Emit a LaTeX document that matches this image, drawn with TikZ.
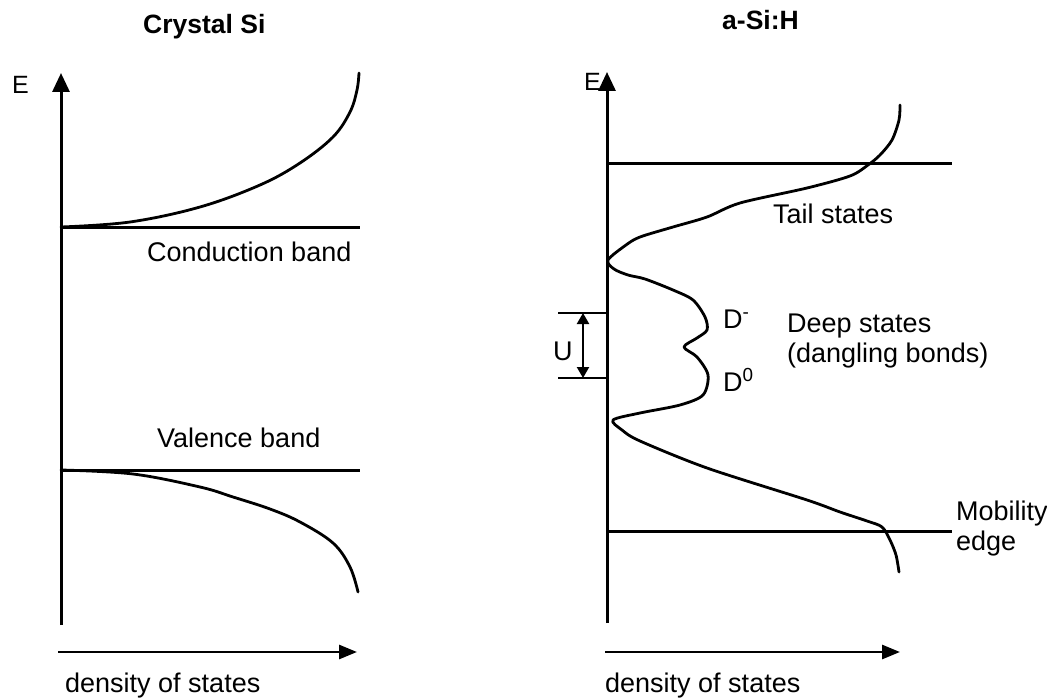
\documentclass[tikz,border=0pt]{standalone}
\usepackage{fontspec}
\setmainfont{Liberation Sans}
\usetikzlibrary{arrows.meta,positioning}

\begin{document}
\begin{tikzpicture}[x=1pt,y=-1pt,
  axis/.style={line width=3pt,-{Triangle[length=19pt,width=17pt]}},
  dosaxis/.style={line width=2.8pt,-{Triangle[length=18pt,width=14pt]}},
  level/.style={line width=3pt},
  dos/.style={line width=2.8pt,line join=round,line cap=round},
  ulevel/.style={line width=2.2pt},
  lbl/.style={inner sep=0pt,anchor=base west,font=\fontsize{27}{30}\selectfont},
  ttl/.style={inner sep=0pt,anchor=base west,font=\fontsize{26.5}{30}\selectfont\bfseries},
  elbl/.style={inner sep=0pt,anchor=base west,font=\fontsize{25}{28}\selectfont}]
\useasboundingbox (0,0) rectangle (1047,698);

% --- crystal Si ---
\node[ttl] (ctitle) at (143,34) {Crystal Si};
\node[elbl] (cE) at (12,94) {E};
\coordinate (cO) at (61,625);
\coordinate (cTop) at (61,73);
\coordinate (cCl) at (61,227);
\coordinate (cCr) at (360,227);
\coordinate (cVl) at (61,470);
\coordinate (cVr) at (360,470);
\coordinate (cDl) at (58,652);
\coordinate (cDr) at (357,652);
\draw[axis] (cO) -- (cTop);
\draw[level] (cCl) -- (cCr);
\draw[level] (cVl) -- (cVr);
\draw[dosaxis] (cDl) -- (cDr);
\draw[dos] plot[smooth,tension=0.6] coordinates {(61,227) (130,222) (200,207) (260,185)
  (300,163) (333,137) (350,112) (357,90) (359,73)};
\draw[dos] plot[smooth,tension=0.6] coordinates {(61,470) (133,474) (200,487) (233,497)
  (270,509) (300,522) (333,543) (350,567) (358,592)};
\node[lbl] (cband) at (147,261) {Conduction band};
\node[lbl] (vband) at (157,447) {Valence band};
\node[lbl] (cdos) at (65,692) {density of states};

% --- a-Si:H ---
\node[ttl] (atitle) at (722,30) {a-Si:H};
\node[elbl] (aE) at (584,91) {E};
\coordinate (aO) at (607,623);
\coordinate (aTop) at (607,72);
\coordinate (aMl) at (607,164);
\coordinate (aMr) at (952,164);
\coordinate (aNl) at (607,531);
\coordinate (aNr) at (952,531);
\coordinate (aDl) at (605,652);
\coordinate (aDr) at (900,652);
\draw[axis] (aO) -- (aTop);
\draw[level] (aMl) -- (aMr);
\draw[level] (aNl) -- (aNr);
\draw[dosaxis] (aDl) -- (aDr);
\draw[dos] plot[smooth,tension=0.5] coordinates {(900,105) (899,120) (892,140) (880,155)
  (868,165) (850,176) (807,188) (740,203) (707,217) (673,227) (640,237) (626,245)
  (608,260) (614,269) (628,275) (645,279) (673,290) (693,300) (705,317) (707,330)
  (697,338) (684,347) (697,357) (708,375) (703,395) (680,405) (640,413) (613,420)
  (622,430) (640,441) (707,468) (807,500) (840,512) (867,521) (882,527) (890,540)
  (896,555) (899,572)};
% U between D- and D0
\coordinate (uTl) at (558,313);
\coordinate (uTr) at (607,313);
\coordinate (uBl) at (558,378);
\coordinate (uBr) at (607,378);
\coordinate (uT) at (583,313);
\coordinate (uB) at (583,378);
\draw[ulevel] (uTl) -- (uTr);
\draw[ulevel] (uBl) -- (uBr);
\draw[ulevel,{Triangle[length=11pt,width=12pt]}-{Triangle[length=11pt,width=12pt]}] (uT) -- (uB);
\node[lbl] (U) at (553,360) {U};
\node[lbl] (Dm) at (723,328) {D\textsuperscript{-}};
\node[lbl] (D0) at (723,391) {D\textsuperscript{0}};
\node[lbl] (tail) at (773,223) {Tail states};
\node[lbl] (deep) at (787,332) {Deep states};
\node[lbl] (dang) at (787,362) {(dangling bonds)};
\node[lbl] (mob) at (956,520) {Mobility};
\node[lbl] (edge) at (956,550) {edge};
\node[lbl] (ados) at (605,692) {density of states};
\end{tikzpicture}
\end{document}
